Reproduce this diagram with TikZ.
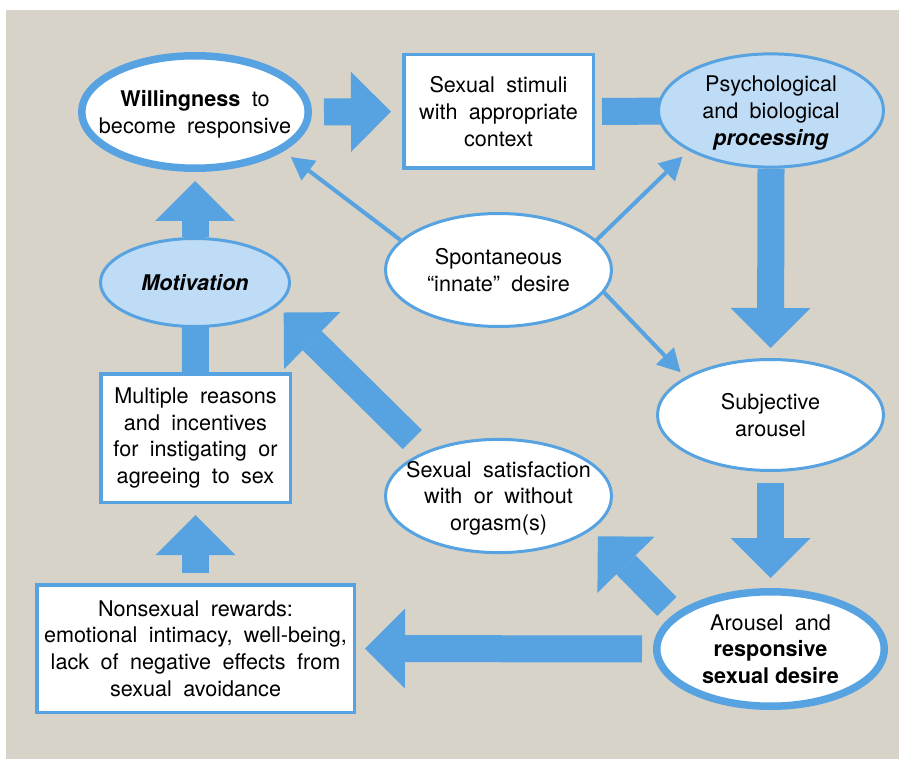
\documentclass[tikz,border=0pt]{standalone}
\usepackage{fontspec}
\setmainfont{TeX Gyre Heros}[UprightFeatures={WordSpace=1.9}]
\usetikzlibrary{arrows.meta,shapes.geometric,backgrounds}
\definecolor{modelBlue}{RGB}{87,162,224}
\definecolor{modelPale}{RGB}{191,220,246}
\definecolor{modelSand}{RGB}{215,211,200}
% text of an ellipse node, kept out of the ellipse size
\newcommand{\elltext}[1]{\makebox[0pt]{\raisebox{-1.3pt}[\height][\depth]{%
  \begin{tabular}{@{}c@{}}#1\end{tabular}}}}

\begin{document}
\begin{tikzpicture}[
  x=0.5pt, y=-0.5pt,
  % ── text ──
  lbl/.style={font=\fontsize{10.8}{13.35}\selectfont, inner sep=0pt, text=black},
  % ── ellipses ──
  ell/.style={lbl, ellipse, draw=modelBlue, fill=white, line width=1.5pt},
  bigell/.style={ell, line width=3.75pt},
  paleell/.style={ell, fill=modelPale},
  % ── boxes ──
  rbox/.style={lbl, rectangle, draw=modelBlue, fill=white, line width=1.75pt,
               align=center},
  % ── arrows ──
  blockarr/.style={modelBlue, line width=13.5pt,
                   -{Triangle[length=20pt,width=40pt,line width=0pt]}},
  blockbar/.style={modelBlue, line width=13.5pt},
  thinarr/.style={modelBlue, line width=2pt,
                  -{Triangle[length=11.3pt,width=12.5pt,line width=0pt]}},
]

%% ─── frame (coordinates in px of the source, 899 x 759) ────────
\useasboundingbox (0,0) rectangle (899,759);
\begin{pgfonlayer}{background}
  \fill[white]     (0,0)  rectangle (899,759);
  \fill[modelSand] (6,10) rectangle (899,759);
\end{pgfonlayer}

%% ─── 1. Top row ───────────────────────────────────────────────
\node[bigell, minimum width=113.25pt, minimum height=56.25pt] (will) at (195,112)
  {\elltext{\textbf{Willingness} to\\become responsive}};
\node[rbox, minimum width=94.75pt, minimum height=56.75pt] (stim) at (498.5,111.5)
  {Sexual stimuli\\with appropriate\\context};
\node[paleell, minimum width=112.5pt, minimum height=56pt] (psych) at (771,110.5)
  {\elltext{Psychological\\and biological\\\textbf{\textit{processing}}}};

%% ─── 2. Middle ────────────────────────────────────────────────
\node[ell, minimum width=113pt, minimum height=56.5pt] (spont) at (498.5,270)
  {\elltext{Spontaneous\\“innate” desire}};
\node[paleell, minimum width=94.5pt, minimum height=44pt] (motiv) at (195,282.5)
  {\elltext{\textbf{\textit{Motivation}}}};
\node[ell, minimum width=113pt, minimum height=55.5pt] (subj) at (770.5,415)
  {\elltext{Subjective\\arousel}};
\node[rbox, minimum width=94.75pt, minimum height=64.25pt] (multi) at (195.5,438)
  {Multiple reasons\\and incentives\\for instigating or\\agreeing to sex};
\node[ell, minimum width=113pt, minimum height=55.5pt] (satis) at (498.5,496)
  {\elltext{Sexual satisfaction\\with or without\\orgasm(s)}};

%% ─── 3. Bottom row ────────────────────────────────────────────
\node[bigell, minimum width=113.75pt, minimum height=57.25pt] (arous) at (770.5,649)
  {\elltext{Arousel and\\\textbf{responsive}\\\textbf{sexual desire}}};
\node[rbox, minimum width=158.75pt, minimum height=63.75pt] (nonsex) at (195.5,648.5)
  {Nonsexual rewards:\\emotional intimacy, well-being,\\lack of negative effects from\\sexual avoidance};

%% ─── 4. Cycle arrows ──────────────────────────────────────────
\draw[blockarr, shorten <=6pt, shorten >=5.5pt]   (will.east)   -- (stim.west);
\draw[blockarr, shorten >=5pt]                    (psych.south) -- (subj.north);
\draw[blockarr, shorten <=5.5pt, shorten >=5pt]   (subj.south)  -- (arous.north);
\draw[blockarr, shorten <=5.5pt, shorten >=4.5pt] (arous.west)  -- (nonsex.east);
\draw[blockarr, shorten <=5.3pt, shorten >=4.5pt] (arous.160)   -- (satis.-20);
\draw[blockarr, shorten <=8.6pt, shorten >=4.6pt] (satis.149)   -- (motiv.-16);
\draw[blockarr, shorten <=5pt, shorten >=5.5pt]   (nonsex.north) -- (multi.south);
\draw[blockarr, shorten >=4.5pt]                  (motiv.north) -- (will.south);

% bars that run in under an ellipse
\begin{pgfonlayer}{background}
  \draw[blockbar, shorten <=3.5pt] (stim.east)   -- (psych.center);
  \draw[blockbar]                  (multi.north) -- (motiv.center);
\end{pgfonlayer}

%% ─── 5. Spontaneous desire ────────────────────────────────────
\draw[thinarr, shorten >=4.75pt] (spont.163) -- (will.-24);
\draw[thinarr, shorten >=4.3pt]  (spont.17)  -- (psych.206);
\draw[thinarr, shorten >=3.3pt]  (spont.-12) -- (subj.156);

\end{tikzpicture}
\end{document}
